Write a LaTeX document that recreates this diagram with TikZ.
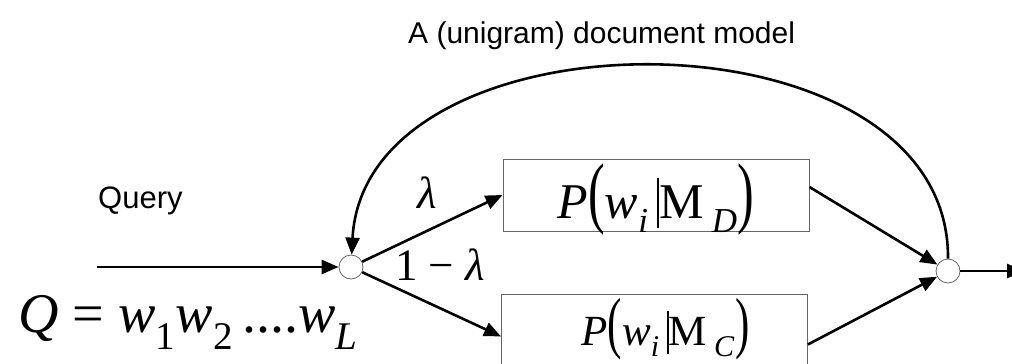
\documentclass[tikz,border=0pt]{standalone}
\usepackage{fontspec}
\setmainfont{Liberation Serif}
\setsansfont{Liberation Sans}
\usepackage{graphicx}
\usetikzlibrary{arrows.meta, positioning}

\newcommand{\lsub}[1]{\textsubscript{#1}}
\newcommand{\tallp}[1]{\scalebox{1}[1.58]{#1}}
\newcommand{\condbar}{\rule[-0.2em]{0.045em}{1.0em}}

\begin{document}
\begin{tikzpicture}[
		x=1pt, y=-1pt,
		flow/.style={-{Triangle[length=17pt, width=14pt]}, line width=2.6pt},
		sumnode/.style={draw=black!60, line width=0.8pt, circle, minimum size=24pt, inner sep=0pt},
		modelbox/.style={draw=black!60, line width=0.9pt, inner sep=0pt, minimum width=306pt},
		tag/.style={inner sep=0pt}
	]
	\useasboundingbox (0,0) rectangle (1012,364);
	\clip (0,0) rectangle (1012,364);

	% mixing points
	\node[sumnode] (mixin) at (351,267) {};
	\node[sumnode] (mixout) at (948,271) {};

	% the two models
	\node[modelbox, minimum height=72pt,
		text height=58pt, text depth=12pt] (docmodel) at (656,195)
		{\fontsize{50}{50}\selectfont \textit{P}\tallp{(}\textit{w}\lsub{\textit{i}}\,\condbar M\,\lsub{\textit{D}}\tallp{)}};
	\node[modelbox, minimum height=80pt, anchor=north,
		text height=47pt, text depth=25pt] (collmodel) at (654.5,294)
		{\hspace*{22pt}\fontsize{43}{43}\selectfont \textit{P}\tallp{(}\textit{w}\lsub{\textit{i}}\,\condbar M\,\lsub{\textit{C}}\tallp{)}};

	% texts
	\node[tag, anchor=base west] (title) at (408,43)
		{\fontsize{30}{34}\selectfont\sffamily A (unigram) document model};
	\node[tag, anchor=base west] (query) at (98,208)
		{\fontsize{31}{34}\selectfont\sffamily Query};
	\node[tag, anchor=base west] (qdef) at (18,332)
		{\fontsize{56}{60}\selectfont \textit{Q} = \textit{w}\lsub{1}\textit{w}\lsub{2}\,....\textit{w}\lsub{\textit{L}}};
	\node[tag, anchor=base] (lam) at (427,208)
		{\fontsize{45}{45}\selectfont\textit{λ}};
	\node[tag, anchor=base] (onelam) at (440,280)
		{\fontsize{45}{45}\selectfont 1 − \textit{λ}};

	\coordinate (qin) at (97,267);
	\coordinate (res) at (1024,271);

	\draw[flow] (qin) -- (mixin);
	\draw[flow] (mixin) -- (docmodel.west);
	\draw[flow] (mixin) -- ([yshift=-2pt]collmodel.west);
	\draw[flow] ([yshift=8pt]docmodel.east) -- (mixout);
	\draw[flow] ([yshift=-10pt]collmodel.east) -- (mixout);
	\draw[flow] (mixout) -- (res);
	\draw[flow] (mixout.north) .. controls (950,3) and (365,3) .. (mixin);
\end{tikzpicture}
\end{document}
